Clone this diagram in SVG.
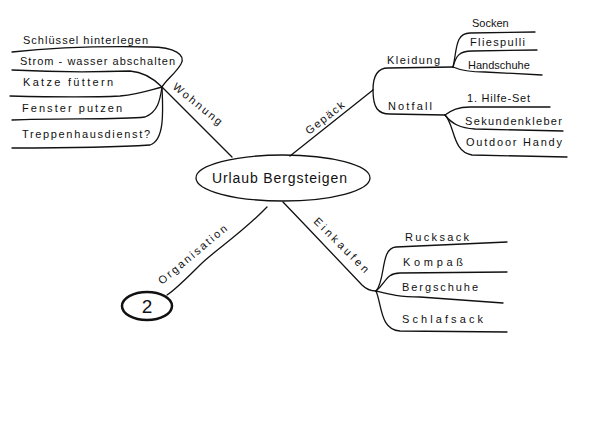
<svg xmlns="http://www.w3.org/2000/svg" width="600" height="425" viewBox="0 0 600 425">
<style>
.l{fill:none;stroke:#111;stroke-width:1.3;stroke-linecap:round}
.t{font-family:"Liberation Sans",Arial,sans-serif;font-size:11px;fill:#111}
.c{font-family:"Liberation Sans",Arial,sans-serif;font-size:14px;fill:#111}
</style>
<rect width="600" height="425" fill="#fff"/>
<g id="connectors">
<path class="l" d="M162,87 C185,110 210,135 232,157"/>
<path class="l" d="M290,156 L373,90"/>
<path class="l" d="M283,202 C310,230 340,262 362,285 C367,290 372,291 376,291"/>
<path class="l" d="M267,207 C240,235 215,250 200,265 C185,280 175,290 167,295"/>
<path class="l" d="M12,52 C50,48 100,46 150,47 C175,47 186,55 181,64 C176,73 166,80 162,87"/>
<path class="l" d="M12,70 C50,72 100,72 130,71 C145,72 155,80 162,87"/>
<path class="l" d="M10,96 C50,97 100,97 120,96 C140,94 150,90 162,87"/>
<path class="l" d="M12,120 C60,118 120,120 145,117 C158,112 160,100 162,87"/>
<path class="l" d="M12,148 C60,148 120,147 150,145 C165,140 163,110 162,87"/>
<path class="l" d="M373,90 C373,75 378,68 388,68 L453,67"/>
<path class="l" d="M373,90 C373,108 378,114 390,114 L445,115"/>
<path class="l" d="M453,67 C457,50 455,33 470,33 L535,32"/>
<path class="l" d="M453,67 C456,56 459,51 472,51 L537,50"/>
<path class="l" d="M453,67 C462,71 470,72 485,72 L542,75"/>
<path class="l" d="M445,115 C452,110 458,107 470,107 L550,107"/>
<path class="l" d="M445,115 C452,124 460,128 475,129 L563,131"/>
<path class="l" d="M445,115 C455,125 452,152 472,155 L567,157"/>
<path class="l" d="M376,291 C386,280 380,248 396,247 L507,242"/>
<path class="l" d="M376,291 C386,283 386,273 400,273 L507,272"/>
<path class="l" d="M376,291 C388,294 398,297 420,297 L503,303"/>
<path class="l" d="M376,291 C382,305 380,330 400,331 L507,332"/>
</g>
<g id="center">
<ellipse cx="283" cy="178" rx="87" ry="23" class="l"/>
<text class="c" x="212" y="183" textLength="135" lengthAdjust="spacing">Urlaub Bergsteigen</text>
</g>
<g id="wohnung">
<text class="t" transform="translate(172,88) rotate(39)" textLength="60" lengthAdjust="spacing">Wohnung</text>
<text class="t" x="23" y="44" textLength="125" lengthAdjust="spacing">Schlüssel hinterlegen</text>
<text class="t" x="20" y="65" textLength="155" lengthAdjust="spacing">Strom - wasser abschalten</text>
<text class="t" x="23" y="86" textLength="90" lengthAdjust="spacing">Katze füttern</text>
<text class="t" x="22" y="112" textLength="100" lengthAdjust="spacing">Fenster putzen</text>
<text class="t" x="22" y="138" textLength="128" lengthAdjust="spacing">Treppenhausdienst?</text>
</g>
<g id="gepaeck">
<text class="t" transform="translate(309,135) rotate(-38)" textLength="46" lengthAdjust="spacing">Gepäck</text>
<text class="t" x="387" y="64" textLength="53" lengthAdjust="spacing">Kleidung</text>
<text class="t" x="388" y="110" textLength="44" lengthAdjust="spacing">Notfall</text>
<text class="t" x="472" y="27">Socken</text>
<text class="t" x="470" y="46" textLength="55" lengthAdjust="spacing">Fliespulli</text>
<text class="t" x="468" y="69">Handschuhe</text>
<text class="t" x="467" y="102" textLength="63" lengthAdjust="spacing">1. Hilfe-Set</text>
<text class="t" x="465" y="125" textLength="97" lengthAdjust="spacing">Sekundenkleber</text>
<text class="t" x="466" y="146" textLength="96" lengthAdjust="spacing">Outdoor Handy</text>
</g>
<g id="einkaufen">
<text class="t" transform="translate(313,222) rotate(45)" textLength="73" lengthAdjust="spacing">Einkaufen</text>
<text class="t" x="405" y="241" textLength="64" lengthAdjust="spacing">Rucksack</text>
<text class="t" x="403" y="266" textLength="60" lengthAdjust="spacing">Kompaß</text>
<text class="t" x="402" y="291" textLength="76" lengthAdjust="spacing">Bergschuhe</text>
<text class="t" x="402" y="323" textLength="81" lengthAdjust="spacing">Schlafsack</text>
</g>
<g id="organisation">
<text class="t" transform="translate(162,285) rotate(-40)" textLength="86" lengthAdjust="spacing">Organisation</text>
</g>
<g id="node2">
<ellipse cx="147" cy="306" rx="25" ry="14" fill="none" stroke="#111" stroke-width="2.5"/>
<text x="147" y="313" text-anchor="middle" font-family="Liberation Sans,Arial,sans-serif" font-size="19" fill="#111">2</text>
</g>
</svg>
